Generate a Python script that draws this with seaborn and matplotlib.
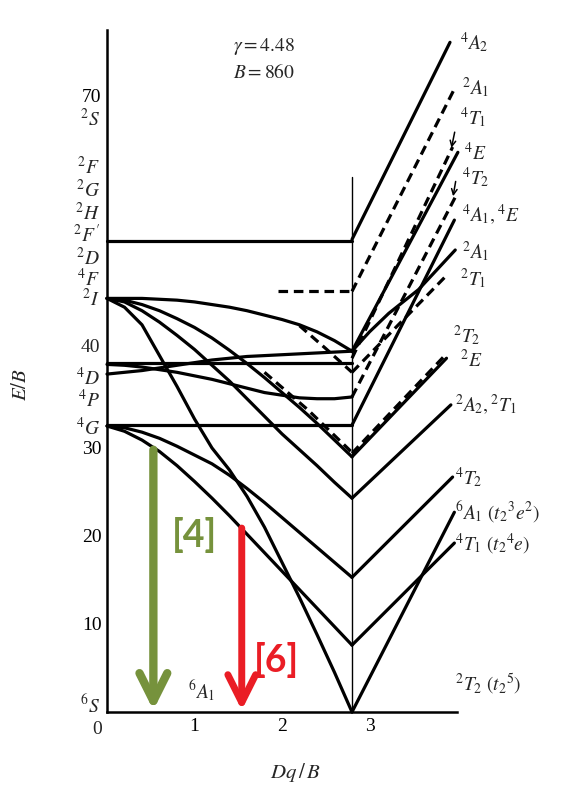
import numpy as np
import pandas as pd
import seaborn as sns
import matplotlib.pyplot as plt

# Dq/B grid for the weak-field side (left of the crossover)
x_left = [0, 0.2, 0.4, 0.6, 0.8, 1.0, 1.2, 1.4, 1.6, 1.8, 2.0, 2.2, 2.4, 2.6, 2.8]
x_cross = 2.8

# E/B values, weak-field side
e_top_flat = [53.5] * 15
e_2I_top = [47.0, 47.0, 47.0, 46.9, 46.8, 46.6, 46.3, 46.0, 45.6, 45.1, 44.6, 44.0, 43.2, 42.2, 41.0]
e_2T2_t25 = [47.0, 46.0, 44.0, 40.5, 37.0, 33.3, 30.0, 27.5, 24.5, 21.0, 17.0, 13.0, 8.8, 4.5, 0.0]
e_to_v24 = [47.0, 46.6, 45.6, 44.3, 42.8, 41.2, 39.4, 37.6, 35.6, 33.6, 31.6, 29.8, 28.0, 26.1, 24.3]
e_to_v29 = [47.0, 46.8, 46.3, 45.6, 44.7, 43.7, 42.5, 41.1, 39.6, 38.0, 36.3, 34.6, 32.8, 30.9, 29.0]
e_4D_flat = [39.7] * 15
e_4D_rise = [38.4, 38.6, 38.8, 39.1, 39.4, 39.7, 40.0, 40.2, 40.4, 40.5, 40.6, 40.7, 40.8, 40.9, 41.0]
e_4D_dip = [39.5, 39.4, 39.2, 38.9, 38.6, 38.2, 37.8, 37.3, 36.8, 36.3, 36.0, 35.7, 35.6, 35.6, 35.8]
e_4G_flat = [32.6] * 15
e_4T2_4G = [32.5, 32.3, 31.8, 31.1, 30.2, 29.2, 28.2, 26.9, 25.4, 23.8, 22.1, 20.4, 18.7, 17.0, 15.3]
e_4T1_4G = [32.5, 31.9, 30.9, 29.6, 28.0, 26.2, 24.3, 22.3, 20.2, 18.1, 16.0, 13.9, 11.8, 9.7, 7.6]

# short dashed pieces on the weak-field side
dash_h_x, dash_h_e = [1.95, 2.8], [47.8, 47.8]
dash_d_x, dash_d_e = [2.2, 2.5, 2.8], [43.9, 41.3, 38.6]
dash_v_x, dash_v_e = [1.8, 2.3, 2.8], [38.6, 34.3, 29.5]

# strong-field side: start/end E, end x
right_solid = {
    '4A2': ([53.7, 76.1], 3.92),
    '4E': ([41.0, 63.6], 4.01),
    '4A1_4E': ([32.6, 55.9], 3.97),
    '2E': ([29.0, 40.2], 3.88),
    '2A2_2T1': ([24.3, 34.9], 3.93),
    '4T2': ([15.3, 26.7], 3.95),
    '4T1': ([7.6, 19.2], 3.97),
    '6A1': ([0.0, 22.7], 3.97),
}
right_dashed = {
    '2A1d': ([47.8, 71.0], 3.98),
    '4T1d': ([40.2, 64.2], 3.95),
    '4T2d': ([35.8, 58.5], 3.98),
    '2T1d': ([38.6, 49.4], 3.86),
    '2Ed': ([29.4, 40.5], 3.86),
}
x_2A1 = [2.8, 3.0, 3.22, 3.56, 3.98]
e_2A1 = [41.0, 43.2, 45.3, 48.0, 52.5]

# transition arrows
arrow_x = [0.53, 1.54]
arrow_top = [29.8, 20.9]
arrow_names = ['[4]', '[6]']
arrow_colors = ['#76923C', '#EA1D25']

rows = []


def add(name, xs, es, kind):
    for xv, ev in zip(xs, es):
        rows.append((name, xv, ev, kind))


add('top', x_left, e_top_flat, 'solid')
add('2Itop', x_left, e_2I_top, 'solid')
add('2T2', x_left, e_2T2_t25, 'solid')
add('v24', x_left, e_to_v24, 'solid')
add('v29', x_left, e_to_v29, 'solid')
add('4Df', x_left, e_4D_flat, 'solid')
add('4Dr', x_left, e_4D_rise, 'solid')
add('4Dd', x_left, e_4D_dip, 'solid')
add('4Gf', x_left, e_4G_flat, 'solid')
add('4T2G', x_left, e_4T2_4G, 'solid')
add('4T1G', x_left, e_4T1_4G, 'solid')
add('dh', dash_h_x, dash_h_e, 'dashed')
add('dd', dash_d_x, dash_d_e, 'dashed')
add('dv', dash_v_x, dash_v_e, 'dashed')
for k, (es, xe) in right_solid.items():
    add('r' + k, [x_cross, xe], es, 'solid')
for k, (es, xe) in right_dashed.items():
    add('r' + k, [x_cross, xe], es, 'dashed')
add('r2A1', x_2A1, e_2A1, 'solid')

df = pd.DataFrame(rows, columns=['curve', 'x', 'E', 'kind'])

sns.set_style('white')
plt.rcParams['font.family'] = ['Liberation Serif', 'DejaVu Serif']
plt.rcParams['mathtext.fontset'] = 'stix'

fig = plt.figure(figsize=(5.78, 7.89), dpi=100)
ax = fig.add_axes([107 / 578, 1 - 712 / 789, 350 / 578, 682 / 789])

sns.lineplot(data=df, x='x', y='E', units='curve', estimator=None, sort=False,
             style='kind', dashes={'solid': '', 'dashed': (3, 1.8)},
             color='black', lw=2.3, legend=False, ax=ax)
for ln in ax.lines:
    ln.set_clip_on(False)

# crossover line
ax.plot([x_cross, x_cross], [0, 60.8], color='black', lw=1.0, clip_on=False)

ax.set_xlim(0, 4)
ax.set_ylim(0, 77.5)
for s in ['top', 'right']:
    ax.spines[s].set_visible(False)
for s in ['left', 'bottom']:
    ax.spines[s].set_linewidth(1.8)
    ax.spines[s].set_color('black')

ax.set_xticks([1, 2, 3, 4])
ax.set_xticklabels(['1', '2', '3', ''])
ax.set_yticks([10, 20, 30, 40, 70])
ax.set_yticklabels(['10', '20', '30', '', '70'])
ax.set_yticks([68.1, 61.8, 58.0, 54.8, 50.0], minor=True)
ax.tick_params(axis='both', which='both', direction='in', length=8, width=1.5,
               labelsize=14, colors='black', pad=4)
ax.set_xlabel('')
ax.set_ylabel('')

# free-ion term labels on the left
terms = [(r'$^{2}S$', 67.4), (r'$^{2}F$', 61.9), (r'$^{2}G$', 59.3), (r'$^{2}H$', 56.7),
         (r'$^{2}F^{\prime}$', 54.2), (r'$^{2}D$', 51.6), (r'$^{4}F$', 49.2), (r'$^{2}I$', 46.9),
         (r'$^{4}D$', 38.0), (r'$^{4}P$', 35.5), (r'$^{4}G$', 32.3), (r'$^{6}S$', 0.8)]
for t, e in terms:
    ax.text(-0.08, e, t, ha='right', va='center', fontsize=14, clip_on=False)
ax.text(-0.08, 41.4, '40', ha='right', va='center', fontsize=14, clip_on=False)
ax.text(-0.11, -2.0, '0', ha='center', va='center', fontsize=14, clip_on=False)

# strong-field labels on the right
rlabels = [(r'$^{4}A_{2}$', 4.03, 76.1), (r'$^{2}A_{1}$', 4.06, 70.9), (r'$^{4}T_{1}$', 4.03, 67.6),
           (r'$^{4}E$', 4.08, 63.5), (r'$^{4}T_{2}$', 4.06, 60.7),
           (r'$^{4}A_{1},{}^{4}E$', 4.06, 56.5), (r'$^{2}A_{1}$', 4.06, 52.3),
           (r'$^{2}T_{1}$', 4.03, 49.3), (r'$^{2}T_{2}$', 3.95, 42.8), (r'$^{2}E$', 4.03, 40.0),
           (r'$^{2}A_{2},{}^{2}T_{1}$', 3.98, 34.9), (r'$^{4}T_{2}$', 3.98, 26.6),
           (r'$^{6}A_{1}\ (t_{2}{}^{3}e^{2})$', 3.98, 22.7),
           (r'$^{4}T_{1}\ (t_{2}{}^{4}e)$', 3.98, 19.0),
           (r'$^{2}T_{2}\ (t_{2}{}^{5})$', 3.98, 3.1)]
for t, xv, e in rlabels:
    ax.text(xv, e, t, ha='left', va='center', fontsize=14, clip_on=False)

ax.annotate('', xy=(3.93, 63.8), xytext=(3.98, 66.2),
            arrowprops=dict(arrowstyle='->', lw=1.1, color='black'))
ax.annotate('', xy=(3.95, 58.3), xytext=(3.99, 60.6),
            arrowprops=dict(arrowstyle='->', lw=1.1, color='black'))

ax.text(1.44, 75.6, r'$\gamma = 4.48$', ha='left', va='center', fontsize=14)
ax.text(1.44, 72.7, r'$B = 860$', ha='left', va='center', fontsize=14)
ax.text(0.92, 2.3, r'$^{6}A_{1}$', ha='left', va='center', fontsize=14)

fig.text(22 / 578, 1 - 385 / 789, r'$E/B$', rotation=90, ha='center', va='center', fontsize=15)
fig.text(295 / 578, 1 - 772 / 789, r'$Dq\,/\,B$', ha='center', va='center', fontsize=15)

# the two transition arrows
lab_pos = [(1.0, 20.1), (1.94, 5.9)]
for xv, top, name, col, (lx, ly) in zip(arrow_x, arrow_top, arrow_names, arrow_colors, lab_pos):
    ax.annotate('', xy=(xv, 0.2), xytext=(xv, top),
                arrowprops=dict(arrowstyle='->,head_length=1.0,head_width=0.5',
                                lw=6 if name == '[4]' else 5, color=col,
                                shrinkA=0, shrinkB=0, mutation_scale=20))
    ax.text(lx, ly, name, color=col, fontsize=27, fontweight='bold',
            family=['Lato', 'DejaVu Sans'], ha='center', va='center')

fig.savefig('out.png', dpi=100)
